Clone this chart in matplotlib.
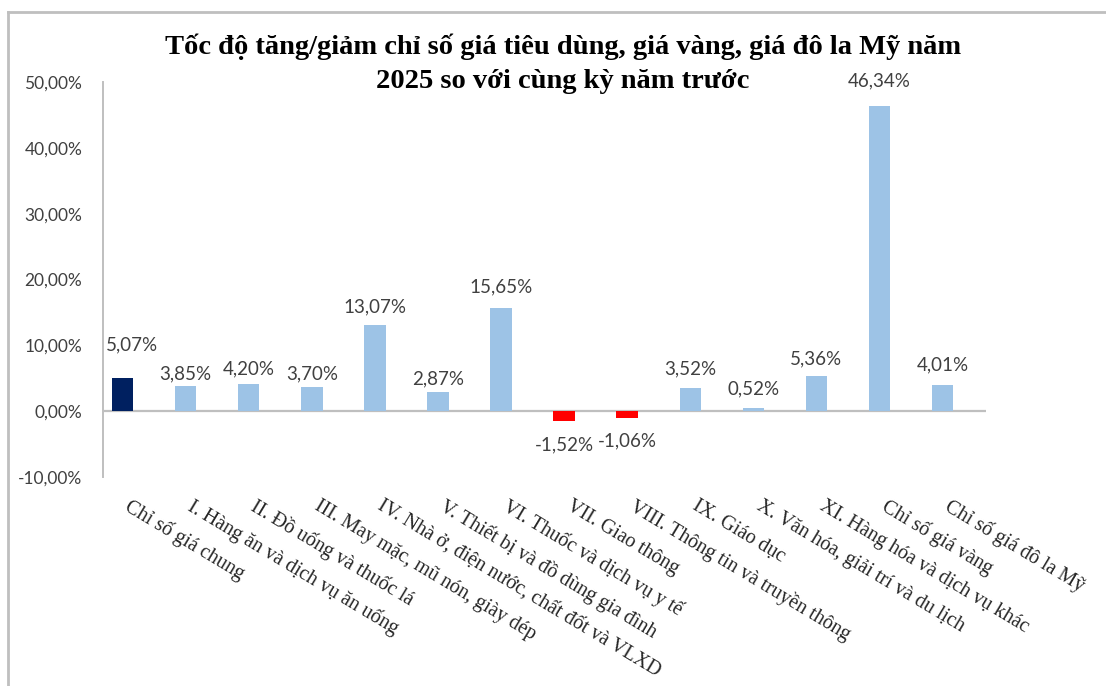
import matplotlib
matplotlib.use("Agg")
import matplotlib.pyplot as plt
import matplotlib.transforms as mtransforms
from matplotlib.lines import Line2D

# ---- data ----
categories = [
    "Chỉ số giá chung",
    "I. Hàng ăn và dịch vụ ăn uống",
    "II. Đồ uống và thuốc lá",
    "III. May mặc, mũ nón, giày dép",
    "IV. Nhà ở, điện nước, chất đốt và VLXD",
    "V. Thiết bị và đồ dùng gia đình",
    "VI. Thuốc và dịch vụ y tế",
    "VII. Giao thông",
    "VIII. Thông tin và truyền thông",
    "IX. Giáo dục",
    "X. Văn hóa, giải trí và du lịch",
    "XI. Hàng hóa và dịch vụ khác",
    "Chỉ số giá vàng",
    "Chỉ số giá đô la Mỹ",
]
values = [5.07, 3.85, 4.20, 3.70, 13.07, 2.87, 15.65, -1.52, -1.06,
          3.52, 0.52, 5.36, 46.34, 4.01]
value_labels = ["5,07%", "3,85%", "4,20%", "3,70%", "13,07%", "2,87%", "15,65%",
                "-1,52%", "-1,06%", "3,52%", "0,52%", "5,36%", "46,34%", "4,01%"]
y_ticks = [-10, 0, 10, 20, 30, 40, 50]
y_tick_labels = ["-10,00%", "0,00%", "10,00%", "20,00%", "30,00%", "40,00%", "50,00%"]
title_lines = ["Tốc độ tăng/giảm chỉ số giá tiêu dùng, giá vàng, giá đô la Mỹ năm",
               "2025 so với cùng kỳ năm trước"]

# ---- styling (not data) ----
label_gap_px = [27, 6, 9, 7, 13, 8, 16, 29, 28, 14, 13, 12, 20, 14]
label_dx_px = [9, 0, 0, 0, 0, 0, 0, 0, 0, 0, 0, 0, 0, 0]
NAVY = "#002060"
LIGHT = "#9DC3E6"
RED = "#FF0000"
GRID = "#BFBFBF"
TXT = "#404040"

W, H = 1106, 686
fig = plt.figure(figsize=(W / 100, H / 100), dpi=100)
left, right = 103 / W, 985.5 / W
bottom, top = 1 - 477 / H, 1 - 82 / H
ax = fig.add_axes([left, bottom, right - left, top - bottom])

x = list(range(len(categories)))
colors = []
for i, v in enumerate(values):
    if i == 0:
        colors.append(NAVY)
    elif v < 0:
        colors.append(RED)
    else:
        colors.append(LIGHT)

ax.bar(x, values, width=0.34, color=colors, zorder=3)

ax.set_xlim(-0.31, 13.68)
ax.set_ylim(-10, 50)

ax.axhline(0, color=GRID, lw=1.6, zorder=2)
for s in ["top", "right", "bottom"]:
    ax.spines[s].set_visible(False)
ax.spines["left"].set_color(GRID)
ax.spines["left"].set_linewidth(1.4)

ax.set_yticks(y_ticks)
ax.set_yticklabels(y_tick_labels, fontsize=12.5, color=TXT, family="Lato")
ax.tick_params(axis="y", length=0, pad=15)

ax.set_xticks(x)
ax.set_xticklabels(categories, rotation=-31, ha="left", va="top",
                   rotation_mode="anchor", fontsize=14.5,
                   family="Liberation Serif", color="#262626")
ax.tick_params(axis="x", length=0, pad=14)
off = mtransforms.ScaledTranslation(9 / 100, 0, fig.dpi_scale_trans)
for lab in ax.get_xticklabels():
    lab.set_transform(lab.get_transform() + off)

for i, (v, t) in enumerate(zip(values, value_labels)):
    if v >= 0:
        dy = label_gap_px[i] * 0.72
    else:
        dy = -label_gap_px[i] * 0.72
    ax.annotate(t, (i, v), xytext=(label_dx_px[i] * 0.72, dy),
                textcoords="offset points", ha="center", va="baseline",
                fontsize=13.5, color=TXT, family="Lato")

for k, (line, yc) in enumerate(zip(title_lines, [47, 81])):
    fig.text(563 / W, 1 - yc / H, line, ha="center", va="center",
             fontsize=20.5, fontweight="bold", family="Liberation Serif",
             color="#000000")

# outer border (top and left only, as in reference)
fig.add_artist(Line2D([8 / W, 1], [1 - 12 / H, 1 - 12 / H], color=GRID, lw=2,
                      transform=fig.transFigure))
fig.add_artist(Line2D([8 / W, 8 / W], [0, 1 - 12 / H], color=GRID, lw=2,
                      transform=fig.transFigure))

fig.savefig("out.png", dpi=100)
